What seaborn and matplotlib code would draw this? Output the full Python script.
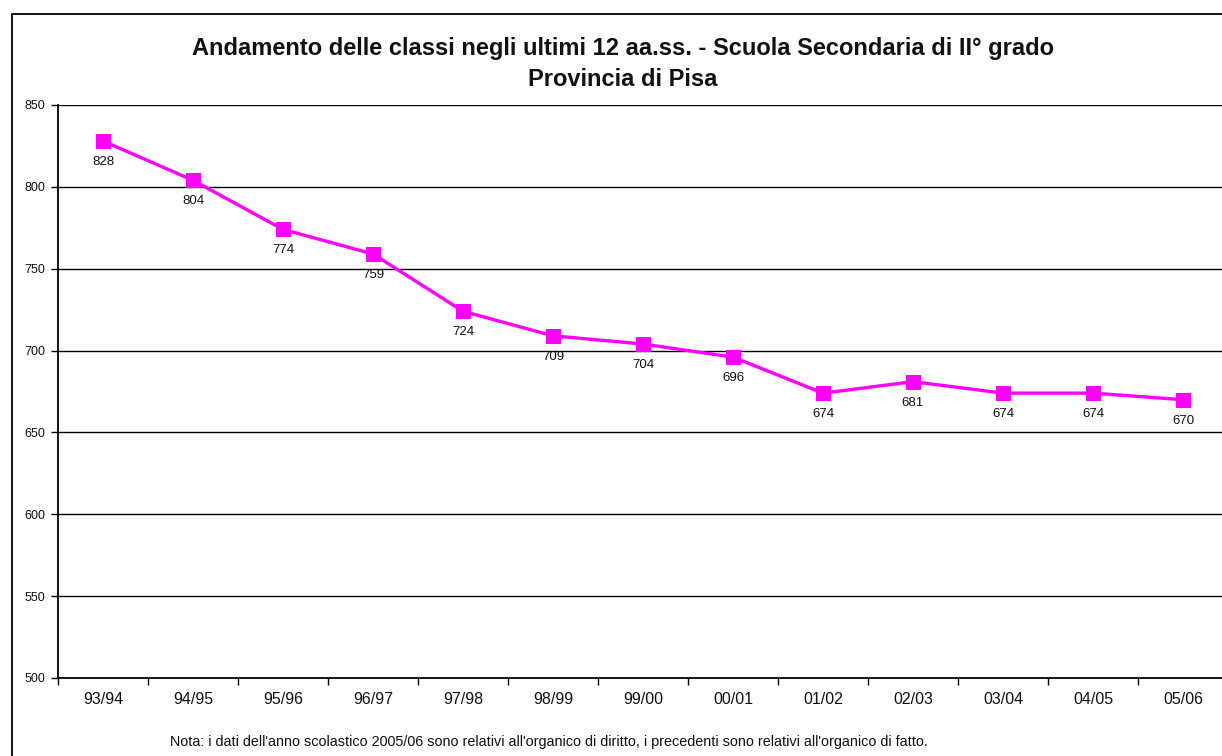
import matplotlib
matplotlib.use("Agg")
import matplotlib.pyplot as plt
from matplotlib.patches import Rectangle
import seaborn as sns
import pandas as pd

# School years and number of classes
anni = ["93/94", "94/95", "95/96", "96/97", "97/98", "98/99", "99/00",
        "00/01", "01/02", "02/03", "03/04", "04/05", "05/06"]
classi = [828, 804, 774, 759, 724, 709, 704, 696, 674, 681, 674, 674, 670]
y_ticks = [500, 550, 600, 650, 700, 750, 800, 850]

df = pd.DataFrame({"anno": anni, "classi": classi})

sns.set_style("white")
plt.rcParams["font.family"] = ["Liberation Sans", "DejaVu Sans"]

W, H = 1222, 756
fig = plt.figure(figsize=(W / 100, H / 100), dpi=100)

# outer frame of the chart area
fig.patches.append(Rectangle((12 / W, -0.1), 1.2, 1 - 14 / H + 0.1,
                             transform=fig.transFigure, fill=False,
                             edgecolor="black", linewidth=1.3, zorder=0))

ax = fig.add_axes([58 / W, 1 - 678 / H, (1228 - 58) / W, (678 - 105) / H])

sns.lineplot(data=df, x="anno", y="classi", ax=ax, sort=False,
             color="#ff00ff", linewidth=2.4, marker="s", markersize=9.5,
             markeredgecolor="#ff00ff", zorder=3)

ax.set_xlim(-0.5, len(anni) - 0.5)
ax.set_ylim(500, 850)
ax.set_yticks(y_ticks)
ax.set_yticklabels([str(v) for v in y_ticks], fontsize=9, color="#111111")
ax.tick_params(axis="y", which="major", direction="out", length=5,
               width=1, color="black", pad=4, left=True)

# category labels centred, tick marks on the category boundaries
ax.set_xticks([i + 0.5 for i in range(-1, len(anni))])
ax.set_xticklabels([])
ax.tick_params(axis="x", which="major", direction="out", length=5,
               width=1, color="black", bottom=True)
ax.set_xticks(range(len(anni)), minor=True)
ax.set_xticklabels(anni, minor=True, fontsize=11.5, color="#111111")
ax.tick_params(axis="x", which="minor", length=0, pad=10)

ax.set_xlabel("")
ax.set_ylabel("")

for v in y_ticks[1:]:
    ax.axhline(v, color="black", linewidth=1, zorder=1)

for s in ["top", "right"]:
    ax.spines[s].set_visible(False)
ax.spines["left"].set_color("black")
ax.spines["bottom"].set_color("black")
ax.spines["left"].set_linewidth(1.3)
ax.spines["bottom"].set_linewidth(1.3)

for i, v in enumerate(classi):
    ax.annotate(str(v), (i, v), xytext=(0, -15), textcoords="offset points",
                ha="center", va="center", fontsize=9.5, color="#111111")

fig.text(623 / W, 1 - 48 / H,
         "Andamento delle classi negli ultimi 12 aa.ss. - Scuola Secondaria di II° grado",
         ha="center", va="center", fontsize=17, fontweight="bold",
         color="#111111")
fig.text(623 / W, 1 - 80 / H, "Provincia di Pisa",
         ha="center", va="center", fontsize=17, fontweight="bold",
         color="#111111")

fig.text(170 / W, 1 - 742 / H,
         "Nota: i dati dell'anno scolastico 2005/06 sono relativi all'organico di diritto, "
         "i precedenti sono relativi all'organico di fatto.",
         ha="left", va="center", fontsize=10.4, color="#111111")

fig.savefig("out.png", dpi=100, facecolor="white")
